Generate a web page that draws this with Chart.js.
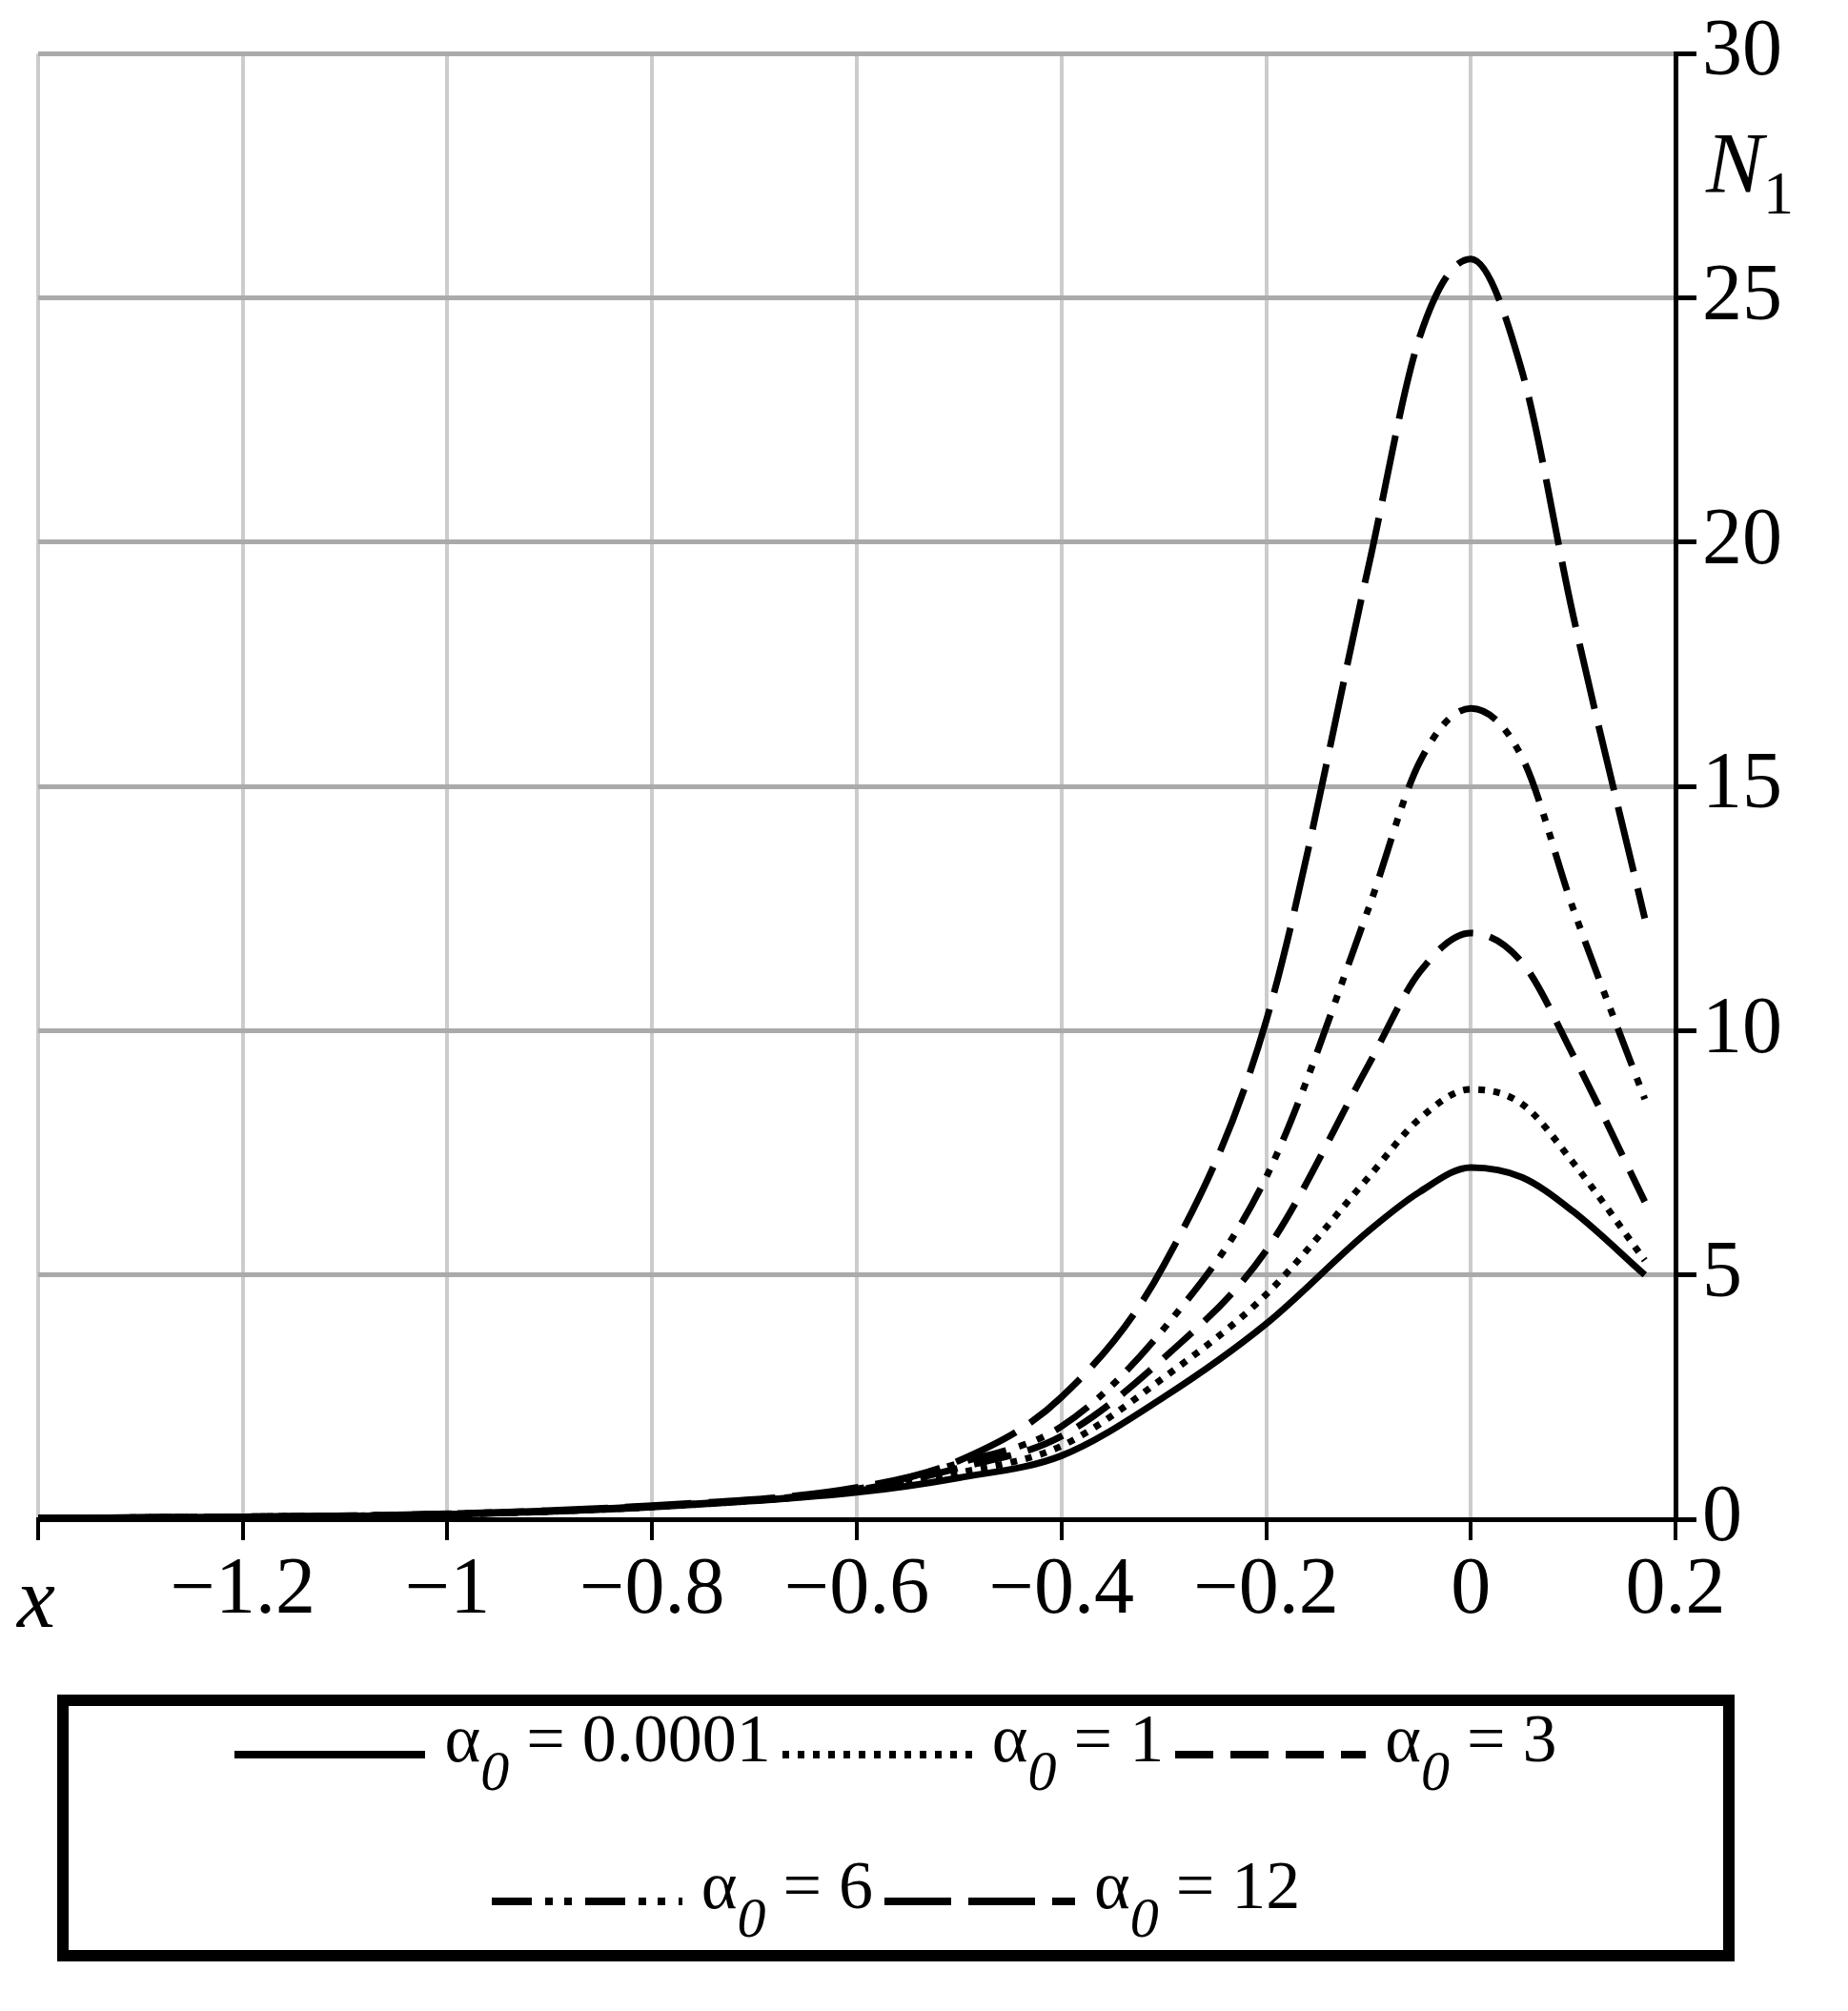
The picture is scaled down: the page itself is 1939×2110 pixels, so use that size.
<!DOCTYPE html>
<html>
<head>
<meta charset="utf-8">
<script src="https://cdn.jsdelivr.net/npm/chart.js@4"></script>
<style>
  body { margin: 0; background: #fff; width: 1939px; height: 2110px; position: relative; overflow: hidden; font-family: "Liberation Serif", serif; }
  #wrap { position: absolute; left: 0; top: 0; width: 1939px; height: 1760px; }
  .lbl { position: absolute; font-style: italic; font-size: 90px; color: #000; }
  #legend { position: absolute; left: 60px; top: 1778px; width: 1760px; height: 280px; border: 12px solid #000; box-sizing: border-box;
            display: flex; flex-wrap: wrap; justify-content: center; align-content: center; font-size: 72px; line-height: 120px; }
  .item { display: flex; align-items: center; margin: 0 6px; }
  .item canvas { margin-right: 20px; }
  sub { font-style: italic; font-size: 60px; vertical-align: -30px; }
</style>
</head>
<body>
<div id="wrap"><canvas id="ourChart"></canvas></div>
<div class="lbl" style="left:18px; top:1625px;">x</div>
<div class="lbl" style="left:1790px; top:120px;">N<span style="font-style:normal;font-size:64px;vertical-align:-22px;">1</span></div>
<div id="legend"></div>
<script>
const xValues = [-1.4, -1.2, -1, -0.8, -0.6, -0.5, -0.4, -0.3, -0.2, -0.1, -0.05, 0, 0.05, 0.1, 0.17];
const seriesLabels = ['0.0001', '1', '3', '6', '12'];
const n1_a0001 = [0.02, 0.05, 0.1, 0.25, 0.55, 0.85, 1.3, 2.5, 4.0, 5.9, 6.7, 7.2, 7.0, 6.3, 5.0];
const n1_a1 = [0.02, 0.05, 0.1, 0.25, 0.58, 0.95, 1.5, 2.9, 4.6, 7.0, 8.2, 8.8, 8.5, 7.3, 5.3];
const n1_a3 = [0.02, 0.05, 0.1, 0.26, 0.6, 1.05, 1.7, 3.3, 5.5, 9.3, 11.2, 12.0, 11.4, 9.5, 6.5];
const n1_a6 = [0.02, 0.05, 0.11, 0.27, 0.62, 1.15, 1.9, 3.9, 7.0, 12.5, 15.5, 16.6, 15.6, 12.5, 8.6];
const n1_a12 = [0.02, 0.05, 0.11, 0.28, 0.65, 1.2, 2.5, 5.2, 10.2, 19.5, 24.2, 25.8, 23.5, 18.5, 12.3];
const yTicks = [0, 5, 10, 15, 20, 25, 30];

const dashes = [[], [7, 9], [40, 18], [42, 14, 8, 12, 8, 14], [70, 18]];
const widths = [7, 7, 7, 7, 7];
const allData = [n1_a0001, n1_a1, n1_a3, n1_a6, n1_a12];

const ourCanvas = document.getElementById('ourChart');

new Chart(ourCanvas, {
    type: 'line',
    data: {
        datasets: allData.map((vals, i) => ({
            label: 'α0 = ' + seriesLabels[i],
            data: vals.map((v, k) => ({ x: xValues[k], y: v })),
            borderColor: '#000',
            borderWidth: widths[i],
            borderDash: dashes[i],
            pointRadius: 0,
            fill: false,
            cubicInterpolationMode: 'monotone',
        }))
    },
    options: {
        responsive: true,
        maintainAspectRatio: false,
        animation: false,
        layout: { padding: { left: 40, top: 54, right: 0, bottom: 0 } },
        plugins: { legend: { display: false }, tooltip: { enabled: false } },
        scales: {
            x: {
                type: 'linear',
                min: -1.4,
                max: 0.2,
                afterFit: s => { s.height = 166; },
                afterBuildTicks: s => { s.ticks = xValues.slice(0, 1).concat([-1.2, -1, -0.8, -0.6, -0.4, -0.2, 0, 0.2]).map(v => ({ value: v })); },
                ticks: {
                    color: '#000',
                    font: { family: 'Liberation Serif', size: 84 },
                    padding: 4,
                    maxRotation: 0,
                    callback: v => (Math.abs(v + 1.4) < 1e-6 ? '' : (v < 0 ? '\u2212' + String(+(-v).toFixed(1)) : String(+v.toFixed(1))))
                },
                grid: { color: '#cccccc', lineWidth: 4, tickLength: 22, tickColor: '#000', tickWidth: 4 },
                border: { color: '#000', width: 5 }
            },
            y: {
                position: 'right',
                min: 0,
                max: 30,
                afterFit: s => { s.width = 181; },
                afterBuildTicks: s => { s.ticks = yTicks.map(v => ({ value: v })); },
                ticks: {
                    color: '#000',
                    font: { family: 'Liberation Serif', size: 84 },
                    padding: 6
                },
                grid: { color: '#aaaaaa', lineWidth: 5, tickLength: 22, tickColor: '#000', tickWidth: 5 },
                border: { color: '#000', width: 5 }
            }
        }
    }
});

// legend
const legend = document.getElementById('legend');
seriesLabels.forEach((lab, i) => {
    const item = document.createElement('div');
    item.className = 'item';
    const c = document.createElement('canvas');
    c.width = 200; c.height = 20;
    const ctx = c.getContext('2d');
    ctx.setLineDash(dashes[i]);
    ctx.lineWidth = 8;
    ctx.beginPath(); ctx.moveTo(0, 10); ctx.lineTo(200, 10); ctx.stroke();
    item.appendChild(c);
    const t = document.createElement('span');
    t.innerHTML = 'α<sub>0</sub> = ' + lab;
    item.appendChild(t);
    legend.appendChild(item);
    if (i === 2) {
        const br = document.createElement('div');
        br.style.flexBasis = '100%'; br.style.height = '0';
        legend.appendChild(br);
    }
});
</script>
</body>
</html>
